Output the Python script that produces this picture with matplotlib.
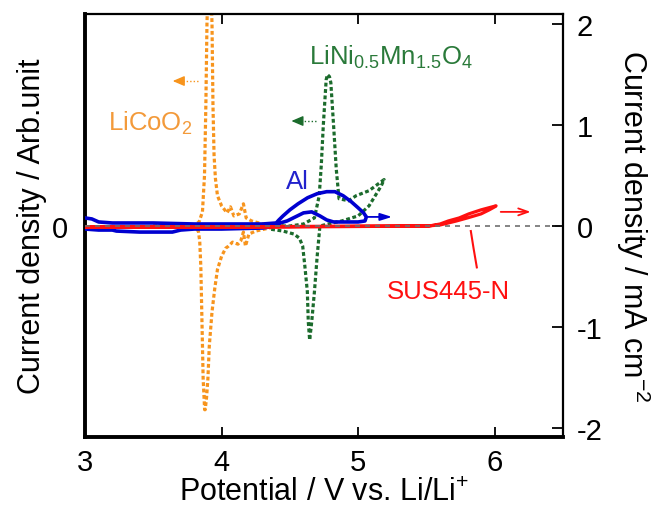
import matplotlib
matplotlib.use("Agg")
import matplotlib.pyplot as plt

plt.rcParams['font.family'] = ['Liberation Sans', 'DejaVu Sans']
plt.rcParams['mathtext.fontset'] = 'custom'
plt.rcParams['mathtext.rm'] = 'Liberation Sans'
plt.rcParams['mathtext.it'] = 'Liberation Sans:italic'

# ---- data (potential V vs Li/Li+, current density) ----
licoo2_x = [3.50, 3.80, 3.835, 3.86, 3.875, 3.885, 3.893, 3.905, 3.918, 3.93, 3.937, 3.945, 3.955, 3.97,
            4.00, 4.04, 4.065, 4.09, 4.13, 4.16, 4.18, 4.22, 4.30, 4.45,
            4.35, 4.25, 4.20, 4.175, 4.16, 4.14, 4.12, 4.08, 4.05, 4.03, 4.00, 3.97, 3.95, 3.93,
            3.91, 3.90, 3.89, 3.88, 3.876, 3.865, 3.855, 3.848, 3.84, 3.83, 3.80, 3.50]
licoo2_y = [0.00, 0.01, 0.04, 0.14, 0.50, 1.20, 2.00, 2.60, 2.60, 2.00, 1.20, 0.70, 0.47, 0.30,
            0.20, 0.13, 0.19, 0.10, 0.12, 0.22, 0.08, 0.05, 0.02, 0.00,
            -0.02, -0.05, -0.08, -0.20, -0.06, -0.15, -0.18, -0.16, -0.20, -0.22, -0.30, -0.43, -0.62, -0.85,
            -1.19, -1.51, -1.70, -1.82, -1.82, -1.51, -0.85, -0.40, -0.15, -0.05, -0.01, 0.00]

lnmo_x = [4.35, 4.50, 4.60, 4.68, 4.715, 4.73, 4.745, 4.766, 4.775, 4.79, 4.80, 4.82, 4.84, 4.86,
          4.93, 4.985, 5.08, 5.19,
          5.17, 5.08, 5.00, 4.88, 4.78, 4.72, 4.70, 4.68, 4.66, 4.645, 4.635, 4.628, 4.61,
          4.594, 4.57, 4.53, 4.45, 4.35]
lnmo_y = [0.00, 0.00, 0.02, 0.08, 0.30, 0.60, 1.00, 1.45, 1.50, 1.48, 1.42, 1.00, 0.56, 0.27,
          0.25, 0.30, 0.35, 0.46,
          0.40, 0.20, 0.10, 0.05, 0.02, 0.00, -0.30, -0.65, -0.95, -1.13, -0.95, -0.65, -0.40,
          -0.20, -0.12, -0.08, -0.05, -0.03]

al_x = [3.00, 3.05, 3.10, 3.20, 3.50, 3.80, 4.10, 4.30, 4.40,
        4.42, 4.45, 4.50, 4.56, 4.63, 4.70, 4.77, 4.83, 4.89, 4.95, 5.00, 5.04, 5.06,
        5.05, 5.00, 4.90, 4.82, 4.77, 4.72, 4.66, 4.60, 4.54, 4.48, 4.43, 4.40,
        4.30, 4.00, 3.80, 3.70, 3.64, 3.40, 3.23, 3.20, 3.10, 3.00]
al_y = [0.08, 0.07, 0.04, 0.03, 0.03, 0.02, 0.02, 0.02, 0.03,
        0.06, 0.10, 0.16, 0.22, 0.28, 0.32, 0.34, 0.34, 0.30, 0.24, 0.18, 0.13, 0.09,
        0.05, 0.04, 0.04, 0.04, 0.06, 0.10, 0.14, 0.13, 0.09, 0.05, 0.03, 0.00,
        -0.02, -0.03, -0.03, -0.04, -0.06, -0.06, -0.05, -0.04, -0.04, -0.03]

sus_x = [3.00, 4.00, 5.00, 5.52, 5.60, 5.66, 5.74, 5.81, 5.90, 6.01,
         6.00, 5.96, 5.90, 5.80, 5.72, 5.60, 5.50, 4.50, 3.00]
sus_y = [-0.01, -0.01, 0.00, 0.00, 0.02, 0.05, 0.08, 0.12, 0.16, 0.20,
         0.19, 0.16, 0.12, 0.08, 0.05, 0.01, 0.00, -0.01, -0.01]

right_ticks = [-2, -1, 0, 1, 2]
x_ticks = [3, 4, 5, 6]

orange = '#f7941d'
green = '#1b6b2c'
blue = '#0000d0'
red = '#ff1010'

fig = plt.figure(figsize=(6.69, 5.10), dpi=100)
ax = fig.add_axes([85/669, 1-438/510, (563-85)/669, (438-15)/510])
ax.set_xlim(3, 6.5)
ax.set_ylim(-2.09, 2.1)

ax.plot(licoo2_x, licoo2_y, color=orange, lw=2.3, dashes=(1.2, 0.8), zorder=2)
ax.plot(lnmo_x, lnmo_y, color=green, lw=2.3, dashes=(1.2, 0.8), zorder=2)
ax.plot(al_x, al_y, color=blue, lw=2.6, zorder=3)
ax.plot(sus_x, sus_y, color=red, lw=2.3, zorder=4)
ax.axhline(0, color='#707070', lw=1.2, dashes=(3, 3), zorder=5)

# arrows
def dotted_arrow(x0, x1, y, c):
    ax.plot([x0, x1 + 0.06], [y, y], color=c, lw=1.0, dashes=(1, 1.5), zorder=6)
    ax.annotate('', xy=(x1, y), xytext=(x1 + 0.07, y),
                arrowprops=dict(arrowstyle='-|>,head_length=0.7,head_width=0.3',
                                color=c, lw=1.0, shrinkA=0, shrinkB=0), zorder=6)

dotted_arrow(3.825, 3.642, 1.436, orange)
dotted_arrow(4.693, 4.511, 1.04, green)
ax.annotate('', xy=(5.248, 0.09), xytext=(5.066, 0.09),
            arrowprops=dict(arrowstyle='-|>,head_length=0.7,head_width=0.22',
                            color=blue, lw=1.3, shrinkA=0, shrinkB=0))
ax.annotate('', xy=(6.263, 0.14), xytext=(6.044, 0.14),
            arrowprops=dict(arrowstyle='->,head_length=0.7,head_width=0.25',
                            color=red, lw=1.3, shrinkA=0, shrinkB=0))
ax.plot([5.825, 5.845, 5.869], [-0.05, -0.22, -0.41], color=red, lw=1.5, zorder=6)

# labels
fs = 18.5
ax.text(3.168, 1.03, r'LiCoO$_{\mathregular{2}}$', color='#f39a3a', fontsize=fs, va='center', ha='left')
ax.text(4.642, 1.68, r'LiNi$_{\mathregular{0.5}}$Mn$_{\mathregular{1.5}}$O$_{\mathregular{4}}$',
        color='#2a7a3a', fontsize=fs, va='center', ha='left')
ax.text(4.474, 0.445, 'Al', color='#2222cc', fontsize=fs, va='center', ha='left')
ax.text(5.21, -0.64, 'SUS445-N', color=red, fontsize=fs, va='center', ha='left')

# axes styling
ax.set_xticks(x_ticks)
ax.set_xticklabels([str(t) for t in x_ticks])
ax.tick_params(axis='x', direction='in', length=7, width=1.3, labelsize=21, pad=8,
               top=True, bottom=True)
ax.set_yticks([0])
ax.set_yticklabels(['0'])
ax.tick_params(axis='y', direction='in', length=0, labelsize=21, pad=12)
ax.spines['left'].set_linewidth(2.8)
ax.spines['bottom'].set_linewidth(2.8)
ax.spines['top'].set_linewidth(1.6)
ax.spines['right'].set_linewidth(1.6)
ax.set_xlabel(r'Potential / V vs. Li/Li$^{\mathregular{+}}$', fontsize=22, labelpad=1)
ax.set_ylabel('Current density / Arb.unit', fontsize=22, labelpad=4)

ax2 = ax.twinx()
ax2.set_ylim(-2.09, 2.1)
ax2.set_yticks(right_ticks)
ax2.set_yticklabels([str(t) for t in right_ticks])
ax2.tick_params(axis='y', direction='in', length=8, width=1.3, labelsize=21, pad=10)
for s in ax2.spines.values():
    s.set_visible(False)
ax2.set_ylabel(r'Current density / mA cm$^{\mathregular{-2}}$', fontsize=22,
               rotation=270, labelpad=36)

fig.savefig('out.png', dpi=100)
